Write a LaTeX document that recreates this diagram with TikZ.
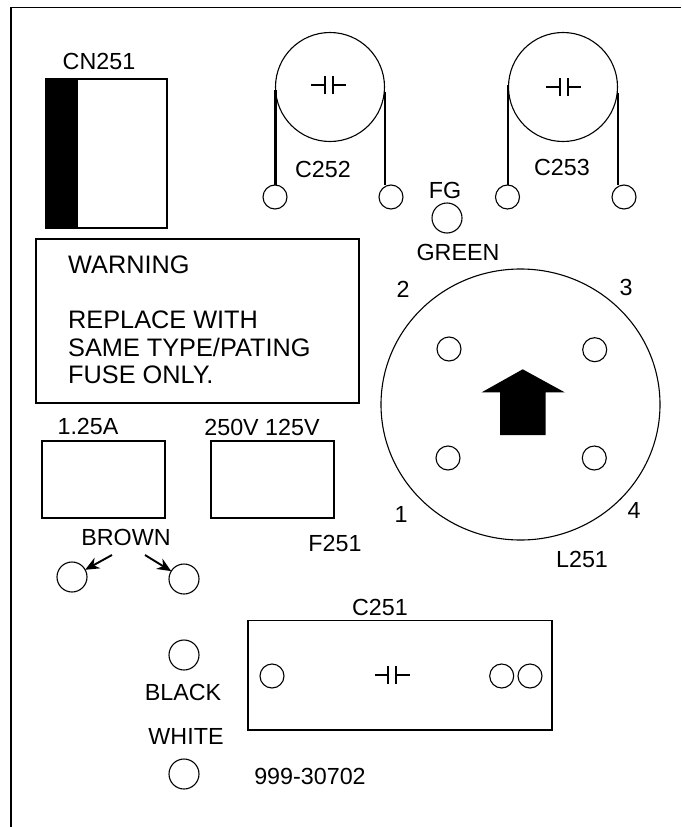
\documentclass[tikz,border=0pt]{standalone}
\usepackage{fontspec}
\setmainfont{Liberation Sans}
\usetikzlibrary{arrows.meta,calc,positioning,shapes.geometric}
\tikzset{
  pinsmall/.style={draw,circle,fill=white,line width=1.1pt,minimum size=24pt,inner sep=0pt,outer sep=0pt},
  pinlarge/.style={draw,circle,fill=white,line width=1.1pt,minimum size=30pt,inner sep=0pt,outer sep=0pt},
  lbl/.style={inner sep=0pt,font=\fontsize{23.3}{27}\selectfont},
  outline/.style={line width=1.3pt},
  lead/.style={line width=2.3pt},
  capline/.style={line width=2pt},
  pointer/.style={line width=1.9pt,-{Stealth[length=14pt,width=12pt]}}
}
\begin{document}
\begin{tikzpicture}[x=1pt,y=-1pt]
  \useasboundingbox (0,0) rectangle (681,827);
  % Outer frame, open at the right and bottom
  \coordinate (frameA) at (11,827);
  \coordinate (frameB) at (11,7.5);
  \coordinate (frameC) at (681,7.5);
  \draw[outline] (frameA)--(frameB)--(frameC);
  % Connector CN251
  \fill (46,79) rectangle (78,228);
  \draw[outline] (46,79) rectangle (167,228);
  \node[lbl] (cnlabel) at (99,61) {CN251};
  % Capacitors C252 and C253 with their leads
  \node[draw,circle,line width=1.1pt,minimum size=109pt,inner sep=0pt] (capB) at (330,87) {};
  \node[draw,circle,line width=1.1pt,minimum size=109pt,inner sep=0pt] (capC) at (563,87) {};
  \node[pinsmall] (pinBa) at (275,197) {};
  \node[pinsmall] (pinBb) at (391,197) {};
  \node[pinsmall] (pinCa) at (507.5,197) {};
  \node[pinsmall] (pinCb) at (624,197) {};
  \coordinate (leadBa) at (275.5,90);
  \coordinate (leadBb) at (385,92);
  \coordinate (leadCa) at (508,85);
  \coordinate (leadCb) at (618,93);
  \draw[lead] (leadBa) -- (leadBa |- pinBa.north);
  \draw[lead] (leadBb) -- (leadBb |- pinBb.north);
  \draw[lead] (leadCa) -- (leadCa |- pinCa.north);
  \draw[lead] (leadCb) -- (leadCb |- pinCb.north);
  \node[lbl] (clabelB) at (323,169) {C252};
  \node[lbl] (clabelC) at (562,167) {C253};
  % Capacitor symbols
  \foreach \cx/\cy in {328.5/85,563.5/87,392/675}
    \draw[capline,shift={(\cx,\cy)}] (-17.5,0)--(-4,0) (-4,-9)--(-4,9) (4,-9)--(4,9) (4,0)--(17.5,0);
  % Ground pin
  \node[lbl] (fglabel) at (445,190) {FG};
  \node[pinlarge] (pinFG) at (447,218) {};
  \node[lbl] (greenlabel) at (458,252) {GREEN};
  % Warning box
  \draw[outline] (36,239) rectangle (359,403);
  \node[lbl,font=\fontsize{25.3}{27.4}\selectfont,align=left,anchor=north west] (warntext) at (68,256) {WARNING\\[0pt]\\REPLACE WITH\\SAME TYPE/PATING\\FUSE ONLY.};
  % Line filter L251
  \node[draw,ellipse,line width=1.1pt,minimum width=279pt,minimum height=271pt,inner sep=0pt] (filter) at (520.5,404.5) {};
  \foreach \hname/\hx/\hy in {holeB/449/349,holeC/594.7/349.7,holeA/448/458,holeD/594.3/458}
    \node[pinsmall] (\hname) at (\hx,\hy) {};
  \fill (522.7,369.3)--(564.7,392.3)--(545.7,392.3)--(545.7,435)--(500,435)--(500,392.3)--(481.7,392.3)--cycle;
  \node[lbl] (numB) at (403,289) {2};
  \node[lbl] (numC) at (626,287) {3};
  \node[lbl] (numA) at (401,514) {1};
  \node[lbl] (numD) at (634,510) {4};
  \node[lbl] (filterlabel) at (582,559) {L251};
  % Fuse F251
  \draw[outline] (42,441) rectangle (165,518);
  \draw[outline] (211,441) rectangle (334,518);
  \node[lbl] (amplabel) at (88,426) {1.25A};
  \node[lbl] (voltlabel) at (262,427) {250V 125V};
  \node[lbl] (fuselabel) at (335,543) {F251};
  % Brown wires
  \node[lbl] (brownlabel) at (126,537) {BROWN};
  \node[pinlarge] (pinBrA) at (72,577) {};
  \node[pinlarge] (pinBrB) at (184,579) {};
  \coordinate (ptrA) at (112,555);
  \coordinate (ptrB) at (145,555);
  \draw[pointer] (ptrA) -- (pinBrA);
  \draw[pointer] (ptrB) -- (pinBrB);
  % Capacitor C251
  \draw[outline] (248,620.7) rectangle (552,730);
  \node[lbl] (clabelA) at (380,607) {C251};
  \node[pinsmall] (pinAa) at (272,676) {};
  \node[pinsmall] (pinAb) at (501.7,676) {};
  \node[pinsmall] (pinAc) at (530,676) {};
  % Black and white wires
  \node[pinlarge] (pinBlack) at (184,655) {};
  \node[lbl] (blacklabel) at (183,692) {BLACK};
  \node[lbl] (whitelabel) at (186,736) {WHITE};
  \node[pinlarge] (pinWhite) at (184,774) {};
  \node[lbl] (partlabel) at (310,776) {999-30702};
\end{tikzpicture}
\end{document}
